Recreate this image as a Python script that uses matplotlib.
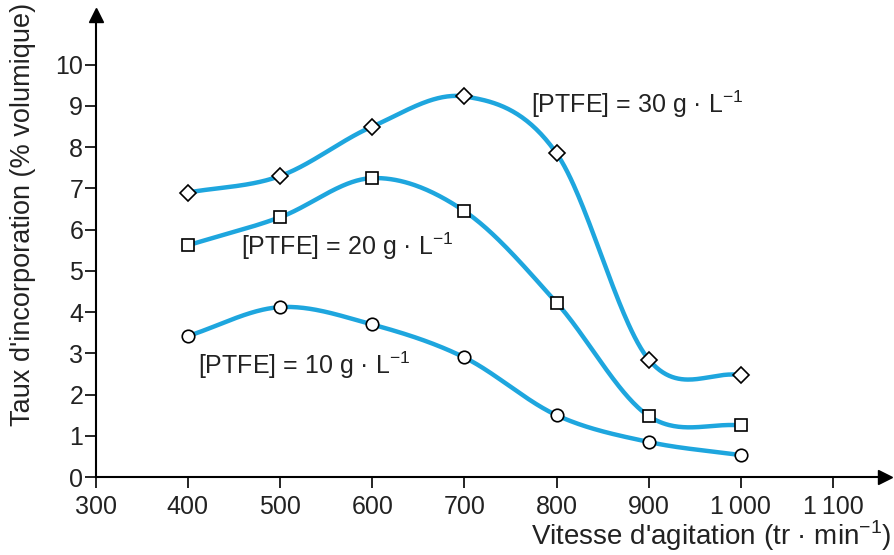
import numpy as np
import matplotlib
matplotlib.use("Agg")
import matplotlib.pyplot as plt
from matplotlib import font_manager

names = {f.name for f in font_manager.fontManager.ttflist}
base = 'Liberation Sans Narrow' if 'Liberation Sans Narrow' in names else 'Liberation Sans'
plt.rcParams['font.family'] = [base, 'DejaVu Sans']
plt.rcParams['mathtext.fontset'] = 'custom'
plt.rcParams['mathtext.rm'] = base

speed = [400, 500, 600, 700, 800, 900, 1000]
ptfe30 = [6.9, 7.3, 8.5, 9.23, 7.85, 2.85, 2.47]
ptfe20 = [5.62, 6.3, 7.25, 6.45, 4.23, 1.48, 1.25]
ptfe10 = [3.42, 4.12, 3.7, 2.9, 1.5, 0.85, 0.53]

xticks = [300, 400, 500, 600, 700, 800, 900, 1000, 1100]
xticklabels = ['300', '400', '500', '600', '700', '800', '900', '1\u2009000', '1\u2009100']
yticks = list(range(0, 11))

color = '#1ea6de'


def catmull_rom(x, y, n=60):
    x = np.asarray(x, float)
    y = np.asarray(y, float)
    k = len(x)
    m = np.empty(k)
    m[0] = (y[1] - y[0]) / (x[1] - x[0])
    m[-1] = (y[-1] - y[-2]) / (x[-1] - x[-2])
    for i in range(1, k - 1):
        m[i] = (y[i + 1] - y[i - 1]) / (x[i + 1] - x[i - 1])
    xs_all, ys_all = [], []
    for i in range(k - 1):
        h = x[i + 1] - x[i]
        t = np.linspace(0, 1, n)
        h00 = 2 * t**3 - 3 * t**2 + 1
        h10 = t**3 - 2 * t**2 + t
        h01 = -2 * t**3 + 3 * t**2
        h11 = t**3 - t**2
        xs_all.append(x[i] + t * h)
        ys_all.append(h00 * y[i] + h10 * h * m[i] + h01 * y[i + 1] + h11 * h * m[i + 1])
    return np.concatenate(xs_all), np.concatenate(ys_all)


fig = plt.figure(figsize=(8.94, 5.55), dpi=100)
ax = fig.add_axes([0.107, 0.1405, 0.8826, 0.832])

for data, mk, ms in [(ptfe30, 'D', 8), (ptfe20, 's', 9), (ptfe10, 'o', 9)]:
    xs, ys = catmull_rom(speed, data)
    ax.plot(xs, ys, color=color, lw=3.2, zorder=2, solid_capstyle='round')
    ax.plot(speed, data, linestyle='none', marker=mk, ms=ms, mfc='white',
            mec='black', mew=1.2, zorder=3)

ax.set_xlim(300, 1156)
ax.set_ylim(0, 11.2)
ax.set_xticks(xticks)
ax.set_xticklabels(xticklabels)
ax.set_yticks(yticks)
ax.tick_params(axis='both', direction='out', length=8, width=1.2,
               labelsize=18, color='black', labelcolor='#222222')
ax.tick_params(axis='x', pad=5)
ax.tick_params(axis='y', pad=1)

for s in ['top', 'right']:
    ax.spines[s].set_visible(False)
for s in ['left', 'bottom']:
    ax.spines[s].set_linewidth(1.5)

ax.plot(1, 0, marker='>', ms=10, color='black', transform=ax.transAxes, clip_on=False)
ax.plot(0, 1, marker='^', ms=10, color='black', transform=ax.transAxes, clip_on=False)

fs = 18
ax.text(772, 9.03, '[PTFE] = 30 g · L$^{-1}$', fontsize=fs, va='center', ha='left', color='#222222')
ax.text(458, 5.6, '[PTFE] = 20 g · L$^{-1}$', fontsize=fs, va='center', ha='left', color='#222222')
ax.text(411, 2.7, '[PTFE] = 10 g · L$^{-1}$', fontsize=fs, va='center', ha='left', color='#222222')

fig.text(0.997, 0.004, "Vitesse d'agitation (tr · min$^{-1}$)", fontsize=20,
         ha='right', va='bottom', color='#222222')
fig.text(0.026, 0.995, "Taux d'incorporation (% volumique)", fontsize=19.5,
         ha='center', va='top', rotation=90, color='#222222')

fig.savefig('out.png', dpi=100)
